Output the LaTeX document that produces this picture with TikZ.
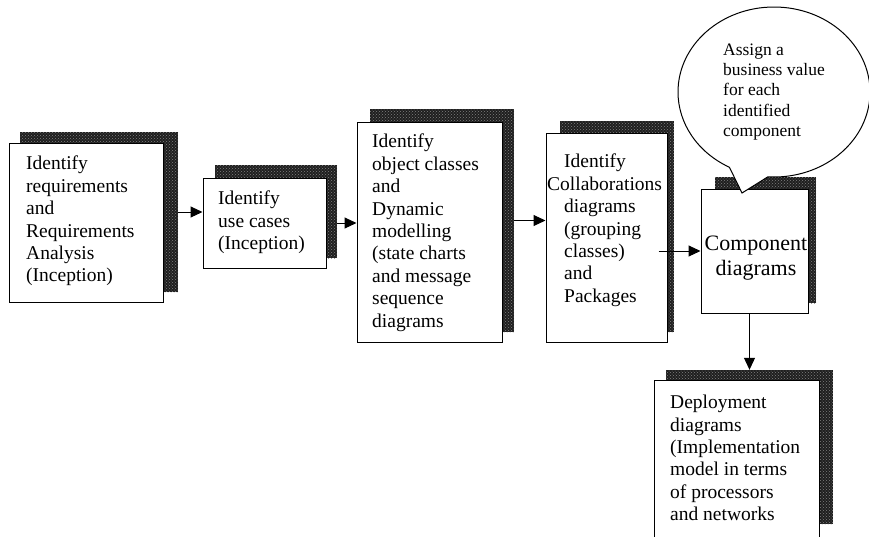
\documentclass[tikz,border=0pt]{standalone}
\usepackage{fontspec}
\setmainfont{Liberation Serif}
\usetikzlibrary{arrows.meta,patterns,shapes.callouts}
\tikzstyle{shadebox} = [rectangle, inner sep=0pt, fill=black!88, postaction={pattern=crosshatch dots, pattern color=black!50}]
\tikzstyle{frontbox} = [rectangle, draw, fill=white, line width=1pt, inner sep=0pt]
\tikzstyle{boxtext} = [align=left, inner sep=0pt, anchor=north west, font=\fontsize{19.5}{22.4}\selectfont]
\tikzstyle{flow} = [-{Triangle[length=12pt,width=11pt]}, line width=1pt]
\tikzstyle{bubble} = [ellipse callout, draw, fill=white, line width=1pt, minimum width=192pt, minimum height=170pt, callout pointer arc=24, align=left, font=\fontsize{17.5}{20.4}\selectfont]

\begin{document}
\begin{tikzpicture}[x=1pt,y=-1pt]
  \useasboundingbox (0,0) rectangle (869,536);
  % shadows
  \draw (99,212)node[shadebox, minimum width=158pt, minimum height=160pt](reqsh){};
  \draw (276,211.5)node[shadebox, minimum width=122pt, minimum height=93pt](ucsh){};
  \draw (442,220.5)node[shadebox, minimum width=144pt, minimum height=223pt](objsh){};
  \draw (617,226.5)node[shadebox, minimum width=114pt, minimum height=211pt](collabsh){};
  \draw (765.5,240)node[shadebox, minimum width=101pt, minimum height=126pt](compsh){};
  \draw (749.5,447)node[shadebox, minimum width=167pt, minimum height=154pt](deploysh){};
  % boxes
  \draw (86,222.5)node[frontbox, minimum width=154pt, minimum height=159pt](req){};
  \draw (264.5,223)node[frontbox, minimum width=123pt, minimum height=90pt](usecase){};
  \draw (429.5,232)node[frontbox, minimum width=145pt, minimum height=220pt](objects){};
  \draw (606.5,237.5)node[frontbox, minimum width=121pt, minimum height=209pt](collab){};
  \draw (754.5,251)node[frontbox, minimum width=107pt, minimum height=124pt](component){};
  \draw (736.5,465)node[frontbox, minimum width=165pt, minimum height=170pt](deploy){};
  % texts
  \draw (26,156)node[boxtext](reqtext){Identify\\requirements\\and\\Requirements\\Analysis\\(Inception)};
  \draw (218,191)node[boxtext](usecasetext){Identify\\use cases\\(Inception)};
  \draw (372,134)node[boxtext](objectstext){Identify\\object classes\\and\\Dynamic\\modelling\\(state charts\\and message\\sequence\\diagrams};
  \draw (564,154)node[boxtext](collabtext){Identify\\\hspace*{-17pt}Collaborations\\diagrams\\(grouping\\classes)\\and\\Packages};
  \draw (756,236)node[boxtext, anchor=north, align=center, font=\fontsize{22}{25}\selectfont](comptext){Component\\diagrams};
  \draw (670,395)node[boxtext](deploytext){Deployment\\diagrams\\(Implementation\\model in terms\\of processors\\and networks};
  % connectors
  \coordinate (grpstart) at ([xshift=-9pt]collab.east |- component.west);
  \draw[flow] (reqsh.east) -- (reqsh.east -| usecase.west);
  \draw[flow] (ucsh.east |- usecase.west) -- (objects.west |- usecase.west);
  \draw[flow] (objsh.east) -- (objsh.east -| collab.west);
  \draw[flow] (grpstart) -- (component.west);
  \draw[flow] ([xshift=-5pt]component.south) -- ([xshift=-5pt]component.south |- deploysh.north);
  % callout
  \draw (774,92)node[bubble, callout absolute pointer={(742,193)}](value){Assign a\\business value\\for each\\identified\\component};
\end{tikzpicture}
\end{document}
